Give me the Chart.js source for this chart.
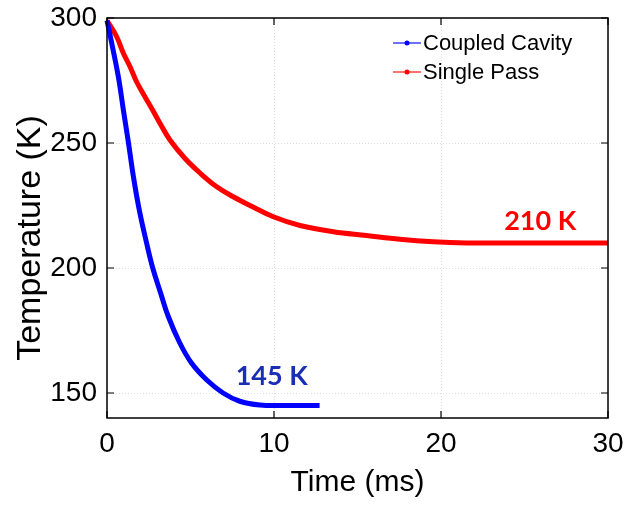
<!DOCTYPE html>
<html>
<head>
<meta charset="utf-8">
<script src="https://cdn.jsdelivr.net/npm/chart.js@4.4.1/dist/chart.umd.min.js"></script>
<style>
  html, body { margin: 0; padding: 0; background: #fff; }
  #wrap { width: 626px; height: 505px; }
</style>
</head>
<body>
<div id="wrap"><canvas id="myChart" width="626" height="505"></canvas></div>
<script>
// Coupled cavity cooling run (time in ms, temperature in K)
const cavityTime = [0, 0.28, 0.68, 0.98, 1.28, 1.58, 1.93, 2.37, 2.73, 3.21, 3.67, 4.36, 5.06, 5.96, 6.95, 7.95, 9.15, 10.74, 12.73];
const cavityTemp = [299, 290, 276.5, 263.2, 250.3, 236.6, 223.3, 210, 200.2, 190, 180.6, 170, 162, 155.3, 150, 146.7, 145.2, 145, 145];

// Single pass cooling run
const singleTime = [0, 0.58, 0.98, 1.38, 1.77, 2.27, 2.67, 3.17, 3.77, 4.66, 5.57, 6.57, 7.56, 8.56, 9.96, 11.56, 13.55, 15.55, 17.54, 19.54, 21.54, 23.5, 25.5, 27.5, 30];
const singleTemp = [299, 292.5, 285.9, 280.5, 274.5, 268.5, 263.9, 257.9, 251.2, 243.9, 238, 232.5, 228.5, 225, 220.5, 217, 214.5, 213, 211.5, 210.5, 210, 210, 210, 210, 210];

const xTicks = [0, 10, 20, 30];
const yTicks = [150, 200, 250, 300];
const yTitle = 'Temperature (K)';

// final temperatures written next to each curve
const finalLabels = [
    { text: '145 K', value: 145, atTime: 9.86, lift: 21, color: '#1a2db5' },
    { text: '210 K', value: 210, atTime: 25.94, lift: 13, color: '#ff0000' }
];

const toPoints = (xs, ys) => xs.map((x, i) => ({ x: x, y: ys[i] }));

// Box frame, inward tick marks, y title, legend and final value labels
const framePlugin = {
    id: 'frame',
    afterDraw(chart) {
        const { ctx, chartArea: a, scales } = chart;
        ctx.save();
        ctx.strokeStyle = '#000';
        ctx.lineWidth = 1.5;
        ctx.strokeRect(a.left, a.top, a.right - a.left, a.bottom - a.top);

        ctx.lineWidth = 1.2;
        const len = 7;
        xTicks.forEach(v => {
            const px = scales.x.getPixelForValue(v);
            ctx.beginPath();
            ctx.moveTo(px, a.bottom); ctx.lineTo(px, a.bottom - len);
            ctx.moveTo(px, a.top); ctx.lineTo(px, a.top + len);
            ctx.stroke();
        });
        yTicks.forEach(v => {
            const py = scales.y.getPixelForValue(v);
            ctx.beginPath();
            ctx.moveTo(a.left, py); ctx.lineTo(a.left + len, py);
            ctx.moveTo(a.right, py); ctx.lineTo(a.right - len, py);
            ctx.stroke();
        });

        // y axis title, sitting a little below the middle of the axis
        ctx.save();
        ctx.translate(31, (a.top + a.bottom) / 2 + 20);
        ctx.rotate(-Math.PI / 2);
        ctx.font = '34px "Liberation Sans", Arial, sans-serif';
        ctx.fillStyle = '#000';
        ctx.textAlign = 'center';
        ctx.textBaseline = 'middle';
        ctx.fillText(yTitle, 0, 0);
        ctx.restore();

        // legend
        const lx = a.right - 215;
        let ly = a.top + 25;
        ctx.font = '22px "Liberation Sans", Arial, sans-serif';
        ctx.textBaseline = 'middle';
        ctx.textAlign = 'left';
        chart.data.datasets.forEach(ds => {
            ctx.strokeStyle = ds.borderColor;
            ctx.globalAlpha = 0.75;
            ctx.lineWidth = 1.5;
            ctx.beginPath();
            ctx.moveTo(lx, ly); ctx.lineTo(lx + 28, ly);
            ctx.stroke();
            ctx.globalAlpha = 1;
            ctx.fillStyle = ds.borderColor;
            ctx.beginPath();
            ctx.arc(lx + 14, ly, 2.5, 0, Math.PI * 2);
            ctx.fill();
            ctx.fillStyle = '#000';
            ctx.fillText(ds.label, lx + 30, ly + 1);
            ly += 29;
        });

        // final temperatures
        ctx.font = 'bold 27px Lato, "Open Sans", sans-serif';
        ctx.textAlign = 'center';
        ctx.textBaseline = 'alphabetic';
        finalLabels.forEach(l => {
            ctx.fillStyle = l.color;
            ctx.fillText(l.text, scales.x.getPixelForValue(l.atTime), scales.y.getPixelForValue(l.value) - l.lift);
        });
        ctx.restore();
    }
};

const tickFont = { family: '"Liberation Sans", Arial, sans-serif', size: 28 };
const titleFont = { family: '"Liberation Sans", Arial, sans-serif', size: 30 };

// keep the plot box where the layout padding puts it
const noEdgePadding = s => { s.paddingLeft = 0; s.paddingRight = 0; s.paddingTop = 0; s.paddingBottom = 0; };

new Chart(document.getElementById('myChart').getContext('2d'), {
    type: 'scatter',
    data: {
        datasets: [{
            label: 'Coupled Cavity',
            data: toPoints(cavityTime, cavityTemp),
            borderColor: '#0000ff',
            backgroundColor: '#0000ff',
            borderWidth: 5,
            pointRadius: 0,
            showLine: true,
            tension: 0.4,
            clip: 6
        }, {
            label: 'Single Pass',
            data: toPoints(singleTime, singleTemp),
            borderColor: '#ff0000',
            backgroundColor: '#ff0000',
            borderWidth: 5,
            pointRadius: 0,
            showLine: true,
            tension: 0.4,
            clip: 6
        }]
    },
    options: {
        responsive: false,
        animation: false,
        layout: { padding: { top: 18, right: 18, left: 0, bottom: 0 } },
        plugins: {
            legend: { display: false },
            tooltip: { enabled: false }
        },
        scales: {
            x: {
                type: 'linear',
                min: 0,
                max: 30,
                afterBuildTicks: s => { s.ticks = xTicks.map(v => ({ value: v })); },
                afterFit: s => { s.height = 87; noEdgePadding(s); },
                ticks: { font: tickFont, color: '#000', padding: 9, maxRotation: 0 },
                grid: { color: '#dcdcdc', drawTicks: false, lineWidth: 1 },
                border: { display: false, dash: [1, 2] },
                title: { display: true, text: 'Time (ms)', font: titleFont, color: '#000', padding: { top: 8 } }
            },
            y: {
                type: 'linear',
                min: 140,
                max: 300,
                afterBuildTicks: s => { s.ticks = yTicks.map(v => ({ value: v })); },
                afterFit: s => { s.width = 107; noEdgePadding(s); },
                ticks: { font: tickFont, color: '#000', padding: 10 },
                grid: { color: '#dcdcdc', drawTicks: false, lineWidth: 1 },
                border: { display: false, dash: [1, 2] }
            }
        }
    },
    plugins: [framePlugin]
});
</script>
</body>
</html>
